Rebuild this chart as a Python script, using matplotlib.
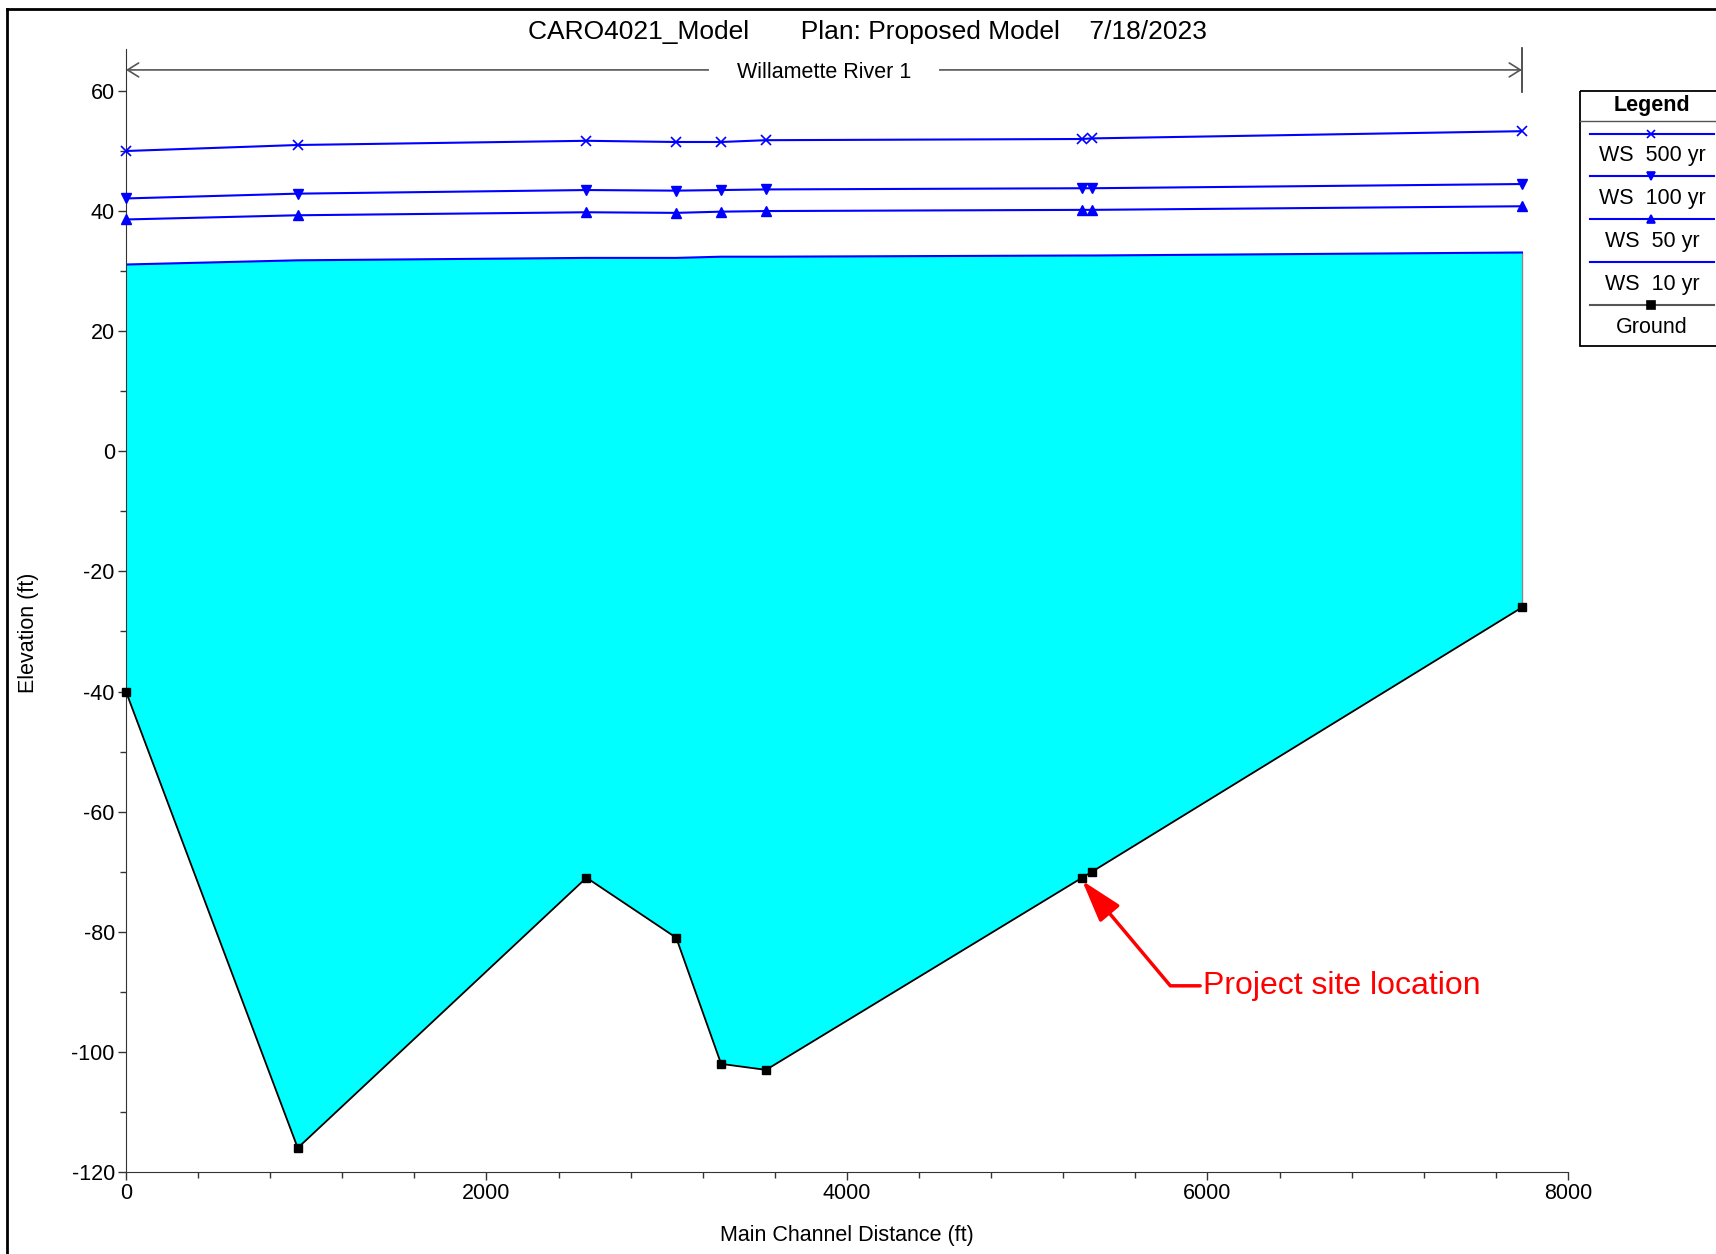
import matplotlib
matplotlib.use('Agg')
import matplotlib.pyplot as plt
from matplotlib.ticker import MultipleLocator
from matplotlib.patches import Rectangle

plt.rcParams['font.family'] = ['Liberation Sans', 'DejaVu Sans']
plt.rcParams['axes.unicode_minus'] = False

# main channel distance of each cross section (ft)
stations = [0, 953, 2555, 3053, 3302, 3551, 5305, 5360, 7745]
# elevations (ft)
ground = [-40, -116, -71, -81, -102, -103, -71, -70, -26]
ws_500 = [50.0, 51.0, 51.7, 51.5, 51.5, 51.8, 52.0, 52.1, 53.3]
ws_100 = [42.1, 42.9, 43.5, 43.4, 43.5, 43.6, 43.8, 43.8, 44.5]
ws_50 = [38.6, 39.3, 39.8, 39.7, 39.9, 40.0, 40.2, 40.2, 40.8]
ws_10 = [31.1, 31.8, 32.2, 32.2, 32.4, 32.4, 32.6, 32.6, 33.1]

legend_names = ['WS  500 yr', 'WS  100 yr', 'WS  50 yr', 'WS  10 yr', 'Ground']
title_txt = 'CARO4021_Model       Plan: Proposed Model    7/18/2023'
reach_name = 'Willamette River 1'
site_label = 'Project site location'
site_station = 5305
site_elev = -71

fs = 15.5

fig = plt.figure(figsize=(17.16, 12.54), dpi=100)
ax = fig.add_axes([0.0734, 0.0654, 0.8403, 0.8956])

# water (lowest profile) fill
ax.fill_between(stations, ground, ws_10, facecolor='cyan', edgecolor='none', zorder=1)
ax.plot([stations[-1], stations[-1]], [ground[-1], ws_10[-1]], color='#888888', lw=1, zorder=1.5)
ax.plot(stations, ws_10, color='blue', lw=1.5, zorder=2)
ax.plot(stations, ws_50, color='blue', lw=1.5, marker='^', ms=7, zorder=3, clip_on=False)
ax.plot(stations, ws_100, color='blue', lw=1.5, marker='v', ms=7, zorder=3, clip_on=False)
ax.plot(stations, ws_500, color='blue', lw=1.5, marker='x', ms=7, mew=1.2, zorder=3, clip_on=False)
ax.plot(stations, ground, color='black', lw=1.3, marker='s', ms=6, zorder=4, clip_on=False)

ax.set_xlim(0, 8000)
ax.set_ylim(-120, 67)
ax.set_xticks(range(0, 8001, 2000))
ax.set_yticks(range(-120, 61, 20))
ax.xaxis.set_minor_locator(MultipleLocator(400))
ax.yaxis.set_minor_locator(MultipleLocator(10))
ax.tick_params(which='major', length=6, width=1, labelsize=fs, pad=2, color='#333333')
ax.tick_params(which='minor', length=4, width=1, color='#333333')
for s in ['top', 'right']:
    ax.spines[s].set_visible(False)
for s in ['left', 'bottom']:
    ax.spines[s].set_color('#333333')

ax.set_xlabel('Main Channel Distance (ft)', fontsize=fs)
ax.set_ylabel('Elevation (ft)', fontsize=fs)
ax.xaxis.set_label_coords(0.5, -0.047)
ax.yaxis.set_label_coords(-0.060, 0.48)

# reach extent arrow
reach_y = 63.5
ax.annotate('', xy=(0, reach_y), xytext=(stations[-1], reach_y),
            arrowprops=dict(arrowstyle='<->,head_length=0.4,head_width=0.25', color='#555555',
                            lw=1.2, shrinkA=0, shrinkB=0, mutation_scale=20))
ax.plot([stations[-1], stations[-1]], [59.9, 67.2], color='#333333', lw=1.2, clip_on=False)
ax.text(stations[-1] / 2, reach_y - 0.5, reach_name, ha='center', va='center', fontsize=fs,
        bbox=dict(boxstyle='square,pad=1.3', facecolor='white', edgecolor='none'))

# project site callout
ax.annotate(site_label, xy=(site_station, site_elev - 0.5), xytext=(5975, -89),
            ha='left', va='center', fontsize=23, color='red',
            arrowprops=dict(arrowstyle='-|>,head_length=1.3,head_width=0.4', color='red', lw=2.5,
                            mutation_scale=20, shrinkA=0, shrinkB=0,
                            connectionstyle='angle,angleA=0,angleB=130,rad=0'))

fig.text(0.5055, 0.9745, title_txt, ha='center', va='center', fontsize=19)

# overlay in pixel units for the legend box and the outer frame
lax = fig.add_axes([0, 0, 1, 1])
lax.set_xlim(0, 1716)
lax.set_ylim(1254, 0)
lax.axis('off')

lax.plot([7, 7], [1254, 9], color='black', lw=2)
lax.plot([7, 1716], [9, 9], color='black', lw=2)

lax.add_patch(Rectangle((1580, 91), 200, 255, fill=False, ec='black', lw=1.3))
lax.plot([1580, 1716], [121, 121], color='#555555', lw=1)
lax.text(1652, 106, 'Legend', ha='center', va='center', fontsize=fs, fontweight='bold')
leg_styles = [('blue', 'x'), ('blue', 'v'), ('blue', '^'), ('blue', None), ('#555555', 's')]
for i, (name, (c, m)) in enumerate(zip(legend_names, leg_styles)):
    ly = 133.5 + i * 42.9
    lax.plot([1590, 1714], [ly, ly], color=c, lw=1.5)
    if m is not None:
        mc = 'black' if m == 's' else 'blue'
        lax.plot([1651], [ly], marker=m, color=mc, ms=6, mew=1.2)
    lax.text(1652, ly + 22, name, ha='center', va='center', fontsize=fs)

fig.savefig('out.png', dpi=100)
